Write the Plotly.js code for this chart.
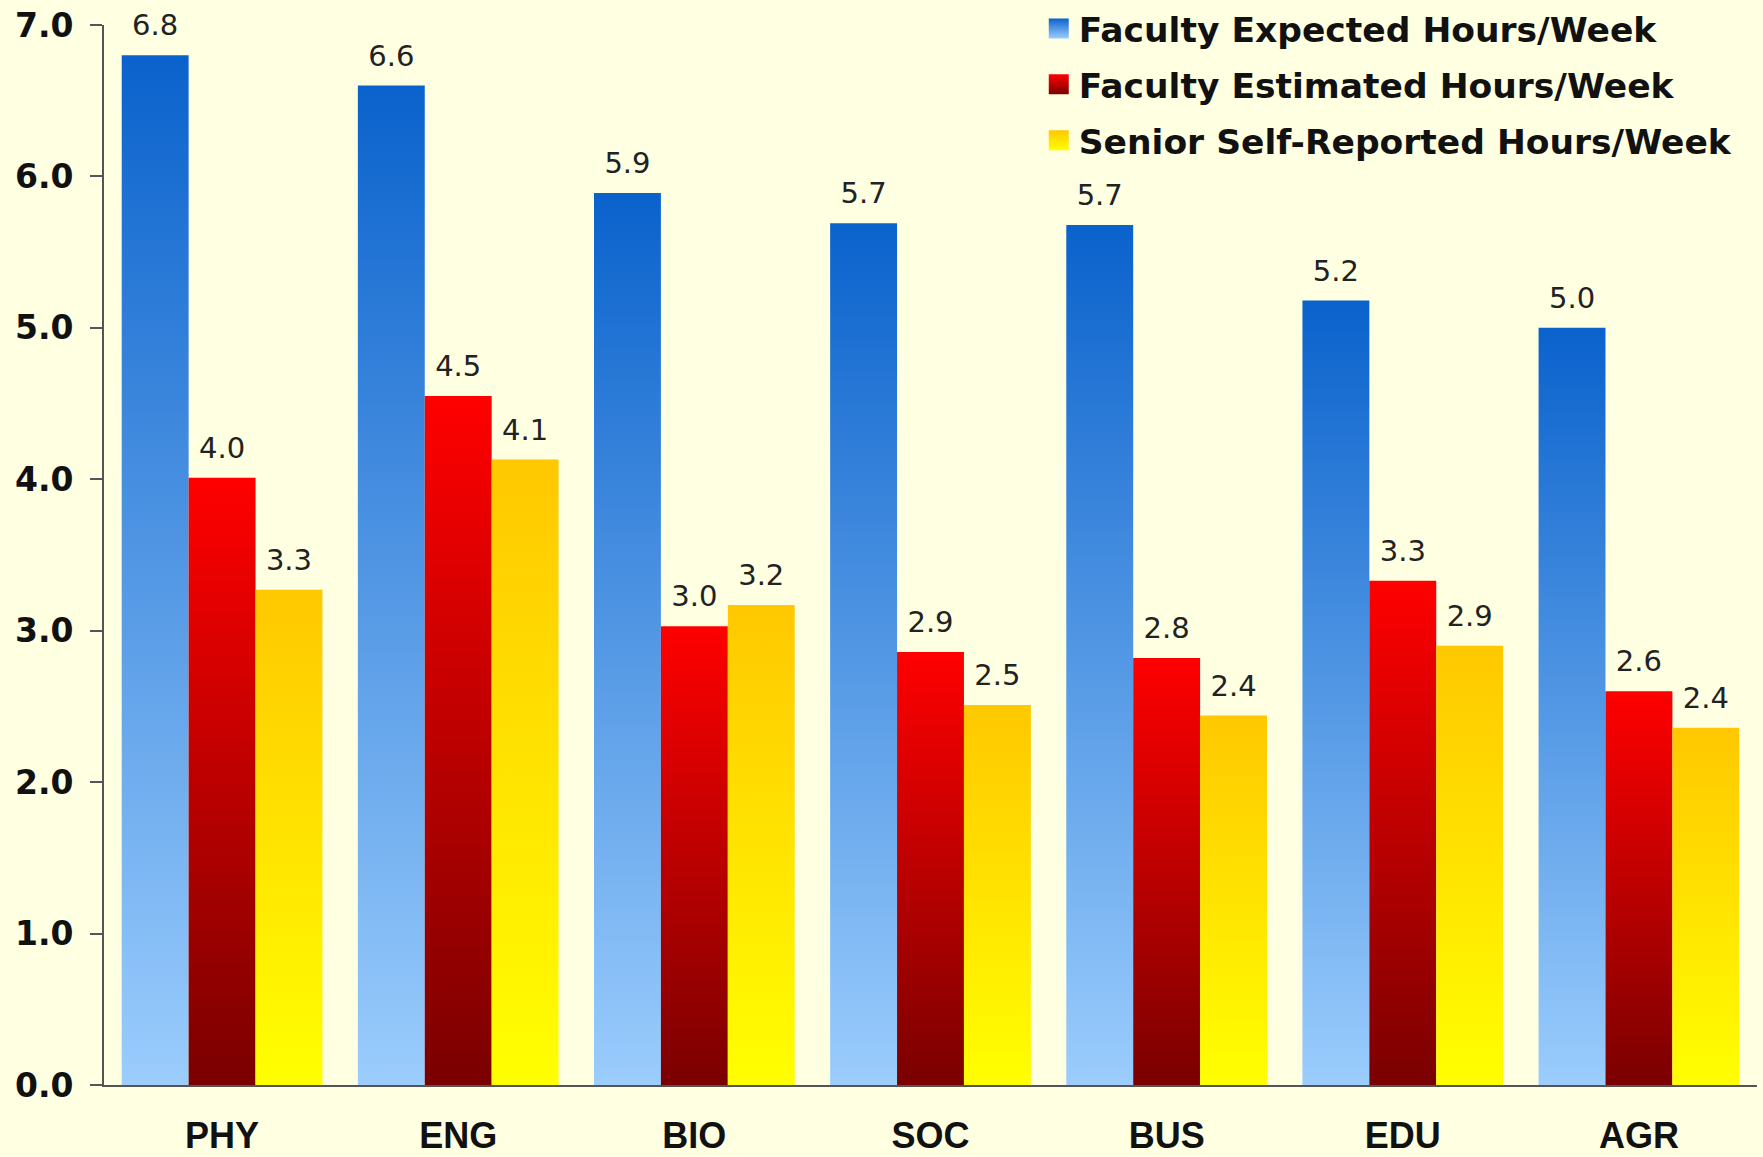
<!DOCTYPE html>
<html>
<head>
<meta charset="utf-8">
<script src="https://cdn.plot.ly/plotly-3.0.1.min.js"></script>
<style>html,body{margin:0;padding:0;background:#ffffe2;}</style>
</head>
<body>
<div id="chart" style="width:1763px;height:1157px;"></div>
<script>
const categories = ["PHY", "ENG", "BIO", "SOC", "BUS", "EDU", "AGR"];
const seriesNames = ["Faculty Expected Hours/Week", "Faculty Estimated Hours/Week", "Senior Self-Reported Hours/Week"];
const expected = [6.80, 6.60, 5.89, 5.69, 5.68, 5.18, 5.00];
const estimated = [4.01, 4.55, 3.03, 2.86, 2.82, 3.33, 2.60];
const senior = [3.27, 4.13, 3.17, 2.51, 2.44, 2.90, 2.36];
const expectedLabels = ["6.8", "6.6", "5.9", "5.7", "5.7", "5.2", "5.0"];
const estimatedLabels = ["4.0", "4.5", "3.0", "2.9", "2.8", "3.3", "2.6"];
const seniorLabels = ["3.3", "4.1", "3.2", "2.5", "2.4", "2.9", "2.4"];
const yTicks = [0, 1, 2, 3, 4, 5, 6, 7];

const gradients = [
  {id: "gBlue", top: "#0a62cc", bottom: "#9bcdfd"},
  {id: "gRed", top: "#ff0000", bottom: "#7a0000"},
  {id: "gYellow", top: "#ffc800", bottom: "#ffff00"}
];
const baseColors = ["#3a7bd5", "#c00000", "#ffe000"];

const labelFont = {family: "DejaVu Sans", size: 29, color: "#222222"};
function mk(y, txt, i) {
  return {
    type: "bar", x: categories, y: y, name: seriesNames[i],
    legendgroup: "g" + i,
    text: txt, texttemplate: "%{text}", textposition: "outside",
    textfont: labelFont, cliponaxis: false, constraintext: "none",
    marker: {color: baseColors[i], line: {width: 0}},
    hoverinfo: "skip"
  };
}
const data = [mk(expected, expectedLabels, 0), mk(estimated, estimatedLabels, 1), mk(senior, seniorLabels, 2)];

const layout = {
  width: 1763, height: 1157,
  paper_bgcolor: "#ffffe2", plot_bgcolor: "#ffffe2",
  margin: {l: 104, r: 6, t: 25, b: 72, autoexpand: false},
  barmode: "group", bargap: 0.15, bargroupgap: 0,
  showlegend: true,
  legend: {
    x: 0.5655, xanchor: "left", y: 1.024, yanchor: "top",
    bgcolor: "rgba(0,0,0,0)", traceorder: "grouped", tracegroupgap: 8,
    font: {family: "DejaVu Sans", size: 34.5, color: "#111111", weight: 700},
    itemwidth: 30
  },
  xaxis: {
    type: "category", showgrid: false, zeroline: false,
    showline: true, linecolor: "#555555", linewidth: 2,
    ticks: "", ticklabelstandoff: 18,
    tickfont: {family: "Liberation Sans", size: 36, color: "#111111", weight: 700}
  },
  yaxis: {
    range: [0, 7], tickvals: yTicks, ticktext: yTicks.map(v => v.toFixed(1)),
    showgrid: false, zeroline: false,
    showline: true, linecolor: "#555555", linewidth: 2,
    ticks: "outside", ticklen: 12, tickcolor: "#555555", tickwidth: 2,
    ticklabelstandoff: 10,
    tickfont: {family: "DejaVu Sans", size: 33, color: "#111111", weight: 700}
  }
};

function applyGradients(gd) {
  const svg = gd.querySelector("svg.main-svg");
  if (!svg) return;
  const ns = "http://www.w3.org/2000/svg";
  let defs = svg.querySelector("defs#customgrad");
  if (!defs) {
    defs = document.createElementNS(ns, "defs");
    defs.setAttribute("id", "customgrad");
    svg.insertBefore(defs, svg.firstChild);
    gradients.forEach(g => {
      const lg = document.createElementNS(ns, "linearGradient");
      lg.setAttribute("id", g.id);
      lg.setAttribute("x1", "0"); lg.setAttribute("y1", "0");
      lg.setAttribute("x2", "0"); lg.setAttribute("y2", "1");
      const s1 = document.createElementNS(ns, "stop");
      s1.setAttribute("offset", "0"); s1.setAttribute("stop-color", g.top);
      const s2 = document.createElementNS(ns, "stop");
      s2.setAttribute("offset", "1"); s2.setAttribute("stop-color", g.bottom);
      lg.appendChild(s1); lg.appendChild(s2); defs.appendChild(lg);
    });
  }
  const traces = gd.querySelectorAll(".barlayer .trace");
  traces.forEach((t, i) => {
    t.querySelectorAll(".point path").forEach(p => { p.style.fill = "url(#" + gradients[i].id + ")"; });
    t.querySelectorAll(".point text").forEach(tx => {
      const tr = tx.getAttribute("transform") || "";
      tx.setAttribute("transform", "translate(0,-10) " + tr);
    });
  });
  const leg = gd.querySelectorAll(".legend .traces");
  leg.forEach((t, i) => {
    t.querySelectorAll(".legendpoints path").forEach(p => {
      p.setAttribute("d", "M10,10H-10V-10H10Z");
      p.style.fill = "url(#" + gradients[i].id + ")";
      p.style.stroke = "none";
    });
  });
}

const gd = document.getElementById("chart");
Plotly.newPlot(gd, data, layout, {displayModeBar: false, staticPlot: true}).then(() => applyGradients(gd));
</script>
</body>
</html>
